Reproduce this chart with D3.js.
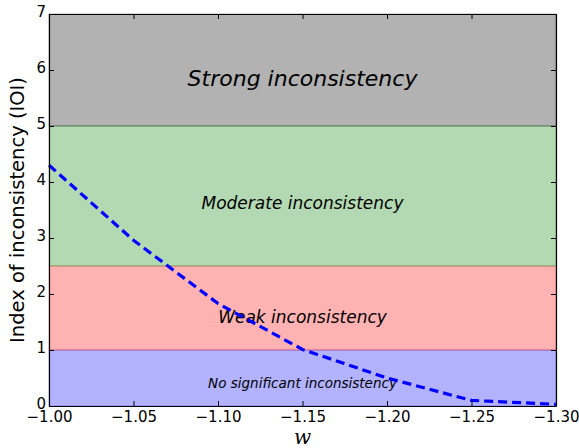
<!DOCTYPE html>
<html>
<head>
<meta charset="utf-8">
<script src="https://cdn.jsdelivr.net/npm/d3@7"></script>
<style>
  body { margin: 0; background: #fff; }
  svg { font-family: "DejaVu Sans", sans-serif; }
</style>
</head>
<body>
<script>
// data
const wValues = [-1.00, -1.05, -1.10, -1.15, -1.20, -1.25, -1.30];
const ioiValues = [4.30, 2.96, 1.83, 1.01, 0.50, 0.10, 0.03];
const bandNames = ["No significant inconsistency", "Weak inconsistency", "Moderate inconsistency", "Strong inconsistency"];
const bandLow = [0, 1, 2.5, 5];
const bandHigh = [1, 2.5, 5, 7];
const bandColors = ["blue", "red", "green", "black"];
const labelY = [0.4, 1.6, 3.62, 5.86];
const labelSize = [13.5, 17, 17, 22];
const xTicks = [-1.00, -1.05, -1.10, -1.15, -1.20, -1.25, -1.30];
const yTicks = [0, 1, 2, 3, 4, 5, 6, 7];

const W = 579, H = 448;
const margin = {left: 49, right: 23, top: 14, bottom: 42};

const svg = d3.select("body").append("svg")
  .attr("width", W).attr("height", H);

const sx = d3.scaleLinear().domain([-1.00, -1.30])
  .range([margin.left, W - margin.right]);
const sy = d3.scaleLinear().domain([0, 7])
  .range([H - margin.bottom, margin.top]);

//bands
bandNames.forEach((name, i) => {
  svg.append("rect")
    .attr("x", sx(-1.00))
    .attr("y", sy(bandHigh[i]))
    .attr("width", sx(-1.30) - sx(-1.00))
    .attr("height", sy(bandLow[i]) - sy(bandHigh[i]))
    .attr("fill", bandColors[i])
    .attr("fill-opacity", 0.3)
    .attr("stroke", bandColors[i])
    .attr("stroke-opacity", 0.3)
    .attr("stroke-width", 1);
});

//band labels
bandNames.forEach((name, i) => {
  svg.append("text")
    .attr("x", sx(-1.15))
    .attr("y", sy(labelY[i]))
    .attr("dy", "0.36em")
    .attr("text-anchor", "middle")
    .attr("font-style", "italic")
    .attr("font-size", labelSize[i])
    .text(name);
});

//curve
const line = d3.line().x((d, i) => sx(wValues[i])).y(d => sy(d));
svg.append("path")
  .datum(ioiValues)
  .attr("d", line)
  .attr("fill", "none")
  .attr("stroke", "#0000ff")
  .attr("stroke-width", 3.2)
  .attr("stroke-dasharray", "9,5");

//axes, ticks inward on all four sides
const fmtX = d => d3.format(".2f")(d).replace("-", "\u2212");
const axB = d3.axisBottom(sx).tickValues(xTicks).tickSizeInner(-5).tickSizeOuter(0).tickPadding(5).tickFormat(fmtX);
const axT = d3.axisTop(sx).tickValues(xTicks).tickSizeInner(-5).tickSizeOuter(0).tickFormat("");
const axL = d3.axisLeft(sy).tickValues(yTicks).tickSizeInner(-5).tickSizeOuter(0).tickPadding(3).tickFormat(d3.format("d"));
const axR = d3.axisRight(sy).tickValues(yTicks).tickSizeInner(-5).tickSizeOuter(0).tickFormat("");

svg.append("g").attr("transform", `translate(0,${sy(0)})`).call(axB);
svg.append("g").attr("transform", `translate(0,${sy(7)})`).call(axT);
const gy = svg.append("g").attr("transform", `translate(${sx(-1.00)},0)`).call(axL);
svg.append("g").attr("transform", `translate(${sx(-1.30)},0)`).call(axR);

svg.selectAll(".domain").attr("stroke", "#000").attr("stroke-width", 1.2);
svg.selectAll(".tick line").attr("stroke", "#000");
svg.selectAll(".tick text")
  .attr("font-family", "DejaVu Sans, sans-serif")
  .attr("font-size", 15)
  .attr("fill", "#000");
gy.selectAll(".tick text").attr("dy", "0.18em");

//axis labels
svg.append("text")
  .attr("transform", `translate(24,${(sy(0) + sy(7)) / 2}) rotate(-90)`)
  .attr("text-anchor", "middle")
  .attr("font-size", 19.5)
  .text("Index of inconsistency (IOI)");

svg.append("text")
  .attr("x", sx(-1.15))
  .attr("y", 444)
  .attr("text-anchor", "middle")
  .attr("font-family", "DejaVu Serif, serif")
  .attr("font-style", "italic")
  .attr("font-size", 20)
  .text("w");
</script>
</body>
</html>
